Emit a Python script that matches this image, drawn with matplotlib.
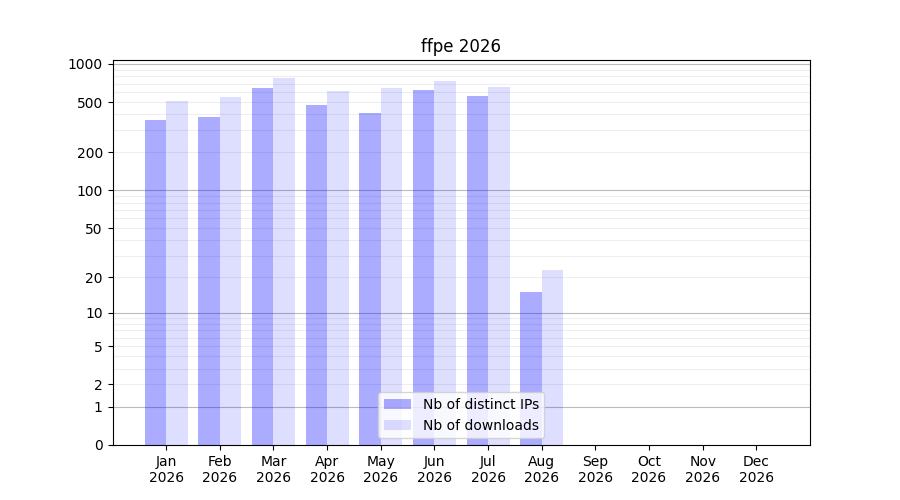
import numpy as np
import matplotlib
matplotlib.use("Agg")
import matplotlib.pyplot as plt

months = ["Jan", "Feb", "Mar", "Apr", "May", "Jun", "Jul", "Aug", "Sep", "Oct", "Nov", "Dec"]
year = 2026
distinct_ips = [362, 382, 647, 475, 410, 623, 559, 15]
downloads = [511, 549, 775, 612, 647, 734, 658, 23]
yticks = [0, 1, 2, 5, 10, 20, 50, 100, 200, 500, 1000]


def fwd(v):
    return np.log10(1 + np.clip(v, 0, None))


def inv(v):
    return 10 ** v - 1


fig, ax = plt.subplots(figsize=(9, 5), dpi=100)
ax.set_yscale("function", functions=(fwd, inv))

x = np.arange(len(distinct_ips))
ax.bar(x - 0.2, distinct_ips, width=0.4, color="blue", alpha=0.33, label="Nb of distinct IPs")
ax.bar(x + 0.2, downloads, width=0.4, color="blue", alpha=0.13, label="Nb of downloads")

# grid: decades darker, intermediate values lighter
for d in [1, 10, 100, 1000]:
    ax.axhline(d, color="#bbbbbb", lw=0.8, zorder=0.5)
for d in [1, 10, 100]:
    for k in range(2, 10):
        ax.axhline(d * k, color="#eeeeee", lw=0.8, zorder=0.4)

ax.set_yticks(yticks)
ax.set_yticklabels([str(t) for t in yticks])
ax.minorticks_off()
ax.set_ylim(0, 1074)
ax.set_xlim(-1, 12)
ax.set_xticks(np.arange(12))
ax.set_xticklabels([f"{m}\n{year}" for m in months])
ax.set_title(f"ffpe {year}")
ax.legend(loc="lower center")

fig.savefig("out.png")
